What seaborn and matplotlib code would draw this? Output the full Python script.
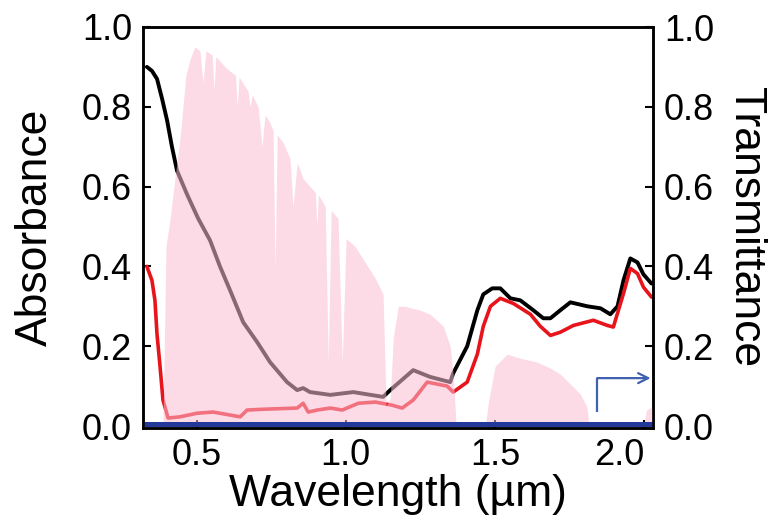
import matplotlib
matplotlib.use("Agg")
import matplotlib.pyplot as plt
import pandas as pd
import seaborn as sns

# Absorbance of the two samples (wavelength in µm)
abs_black_wl = [0.333, 0.350, 0.367, 0.384, 0.401, 0.417, 0.434, 0.468, 0.505, 0.545,
                0.578, 0.612, 0.656, 0.703, 0.746, 0.803, 0.837, 0.857, 0.880, 0.948,
                1.025, 1.125, 1.149, 1.226, 1.283, 1.350, 1.360, 1.407, 1.441, 1.461,
                1.491, 1.518, 1.552, 1.585, 1.629, 1.662, 1.686, 1.719, 1.753, 1.810,
                1.854, 1.887, 1.911, 1.931, 1.954, 1.978, 1.998, 2.025]
abs_black = [0.90, 0.89, 0.87, 0.82, 0.765, 0.70, 0.64, 0.58, 0.52, 0.465,
             0.40, 0.34, 0.26, 0.21, 0.16, 0.11, 0.09, 0.095, 0.085, 0.078,
             0.085, 0.073, 0.09, 0.14, 0.123, 0.11, 0.132, 0.20, 0.29, 0.33,
             0.345, 0.345, 0.32, 0.315, 0.29, 0.27, 0.27, 0.29, 0.31, 0.30,
             0.295, 0.28, 0.30, 0.365, 0.42, 0.41, 0.38, 0.357]

abs_red_wl = [0.333, 0.350, 0.360, 0.367, 0.377, 0.387, 0.404, 0.444, 0.501, 0.555,
              0.646, 0.669, 0.723, 0.837, 0.857, 0.874, 0.904, 0.948, 0.988, 1.042,
              1.099, 1.156, 1.189, 1.226, 1.273, 1.340, 1.360, 1.407, 1.441, 1.461,
              1.485, 1.518, 1.562, 1.619, 1.652, 1.686, 1.719, 1.763, 1.830, 1.877,
              1.897, 1.931, 1.954, 1.978, 1.998, 2.025]
abs_red = [0.40, 0.365, 0.315, 0.23, 0.15, 0.065, 0.02, 0.023, 0.032, 0.035,
           0.023, 0.04, 0.042, 0.045, 0.057, 0.035, 0.04, 0.045, 0.04, 0.057,
           0.06, 0.052, 0.045, 0.065, 0.11, 0.10, 0.085, 0.11, 0.18, 0.25,
           0.30, 0.32, 0.307, 0.28, 0.25, 0.227, 0.235, 0.252, 0.265, 0.252,
           0.248, 0.332, 0.395, 0.382, 0.348, 0.323]

# Transmittance (right axis)
trans_wl = [0.32, 0.60, 1.00, 1.40, 1.80, 2.03]
trans = [0.005, 0.005, 0.005, 0.005, 0.005, 0.005]

# Normalised solar irradiance spectrum
solar_wl = [0.387, 0.397, 0.411, 0.427, 0.444, 0.464, 0.478, 0.494, 0.511, 0.521,
            0.531, 0.552, 0.558, 0.564, 0.572, 0.595, 0.619, 0.630, 0.636, 0.642,
            0.659, 0.672, 0.679, 0.686, 0.706, 0.719, 0.729, 0.746, 0.756, 0.763,
            0.770, 0.790, 0.813, 0.823, 0.837, 0.857, 0.880, 0.898, 0.903, 0.908,
            0.931, 0.941, 0.951, 0.974, 0.988, 1.001, 1.031, 1.065, 1.099, 1.125,
            1.135, 1.149, 1.159, 1.176, 1.199, 1.223, 1.250, 1.283, 1.327, 1.350,
            1.360, 1.370, 1.468, 1.478, 1.501, 1.541, 1.585, 1.642, 1.686, 1.719,
            1.760, 1.786, 1.807, 1.817, 1.998, 2.008, 2.031]
solar = [0.0, 0.45, 0.52, 0.62, 0.72, 0.88, 0.92, 0.95, 0.94, 0.86,
         0.94, 0.93, 0.84, 0.925, 0.92, 0.90, 0.885, 0.88, 0.80, 0.875,
         0.855, 0.84, 0.80, 0.83, 0.80, 0.70, 0.78, 0.76, 0.74, 0.40,
         0.73, 0.71, 0.67, 0.55, 0.66, 0.62, 0.60, 0.585, 0.50, 0.58,
         0.55, 0.16, 0.54, 0.52, 0.16, 0.47, 0.45, 0.41, 0.37, 0.33,
         0.05, 0.07, 0.22, 0.30, 0.30, 0.295, 0.29, 0.28, 0.25, 0.20,
         0.13, 0.0, 0.0, 0.06, 0.15, 0.18, 0.17, 0.16, 0.145, 0.13,
         0.10, 0.08, 0.05, 0.0, 0.0, 0.04, 0.05]

x_ticks = [0.5, 1.0, 1.5, 2.0]
y_ticks = [0.0, 0.2, 0.4, 0.6, 0.8, 1.0]

sns.set_style("ticks")
plt.rcParams["font.family"] = ["Liberation Sans", "DejaVu Sans"]
plt.rcParams["text.color"] = "black"
plt.rcParams["axes.labelcolor"] = "black"
plt.rcParams["xtick.color"] = "black"
plt.rcParams["ytick.color"] = "black"

fig = plt.figure(figsize=(7.83, 5.22), dpi=100)
ax = fig.add_axes([143 / 783, 94 / 522, 510 / 783, 401 / 522])

df_black = pd.DataFrame({"wl": abs_black_wl, "A": abs_black})
df_red = pd.DataFrame({"wl": abs_red_wl, "A": abs_red})
sns.lineplot(data=df_black, x="wl", y="A", ax=ax, color="black", lw=2.8,
             estimator=None, sort=False, zorder=2)
sns.lineplot(data=df_red, x="wl", y="A", ax=ax, color="#e8141c", lw=2.6,
             estimator=None, sort=False, zorder=2)

# solar spectrum overlaid translucently
ax.fill_between(solar_wl, 0, solar, color="#fabed2", alpha=0.55, lw=0, zorder=3)

ax.set_xlim(0.32, 2.03)
ax.set_ylim(-0.005, 1.0)
ax.set_xticks(x_ticks)
ax.set_xticklabels([f"{t:.1f}" for t in x_ticks])
ax.set_yticks(y_ticks)
ax.set_yticklabels([f"{t:.1f}" for t in y_ticks])
ax.get_xticklabels()[-1].set_horizontalalignment("right")
ax.tick_params(direction="in", length=6, width=1.5, labelsize=26, pad=8,
               colors="black")
ax.tick_params(axis="x", pad=7)
ax.set_xlabel("Wavelength (µm)", fontsize=32)
ax.set_ylabel("Absorbance", fontsize=32)
ax.xaxis.set_label_coords(0.5, -0.115)
ax.yaxis.set_label_coords(-0.171, 0.5)

ax2 = ax.twinx()
df_t = pd.DataFrame({"wl": trans_wl, "T": trans})
sns.lineplot(data=df_t, x="wl", y="T", ax=ax2, color="#23399a", lw=3.6,
             estimator=None, sort=False)
ax2.set_ylim(-0.005, 1.0)
ax2.set_yticks(y_ticks)
ax2.set_yticklabels([f"{t:.1f}" for t in y_ticks])
ax2.tick_params(direction="in", length=6, width=1.5, labelsize=26, pad=8,
                colors="black")
ax2.set_ylabel("Transmittance", fontsize=32, rotation=270, va="bottom")
ax2.yaxis.set_label_coords(1.142, 0.5)

# arrow pointing to the right-hand axis
ax2.annotate("", xy=(2.022, 0.12), xytext=(1.843, 0.12),
             arrowprops=dict(arrowstyle="->", color="#4060b0", lw=1.6,
                             mutation_scale=18, shrinkA=0, shrinkB=0))
ax2.plot([1.843, 1.843], [0.035, 0.12], color="#4060b0", lw=1.6,
         solid_capstyle="butt")

for a in (ax, ax2):
    for s in a.spines.values():
        s.set_linewidth(1.8)
        s.set_color("black")

fig.savefig("out.png", dpi=100)
